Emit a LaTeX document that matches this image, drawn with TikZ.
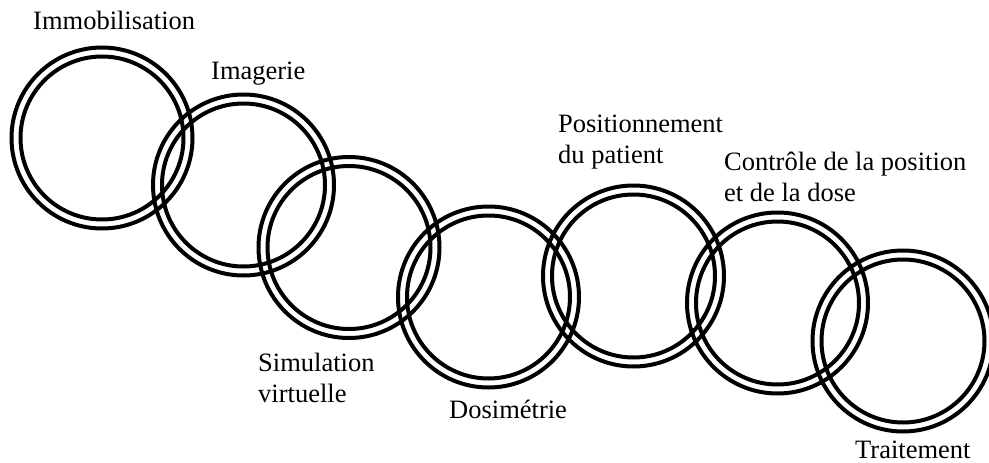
\documentclass[tikz,border=0pt]{standalone}
\usepackage{fontspec}
\setmainfont{Liberation Serif}
\begin{document}
\begin{tikzpicture}[x=1pt,y=-1pt,
  ringouter/.style={circle,draw,line width=4pt,minimum size=181pt,inner sep=0pt},
  ringinner/.style={draw,line width=4pt},
  lbl/.style={anchor=base west,inner sep=0pt,align=left,font=\fontsize{26.5}{31}\selectfont}]
\useasboundingbox (0,0) rectangle (989,463);
\node[ringouter] (r1) at (102,138) {};
\node[ringouter] (r2) at (243.5,185) {};
\node[ringouter] (r3) at (349,247.5) {};
\node[ringouter] (r4) at (488.5,297) {};
\node[ringouter] (r5) at (633.5,276) {};
\node[ringouter] (r6) at (777.5,303) {};
\node[ringouter] (r7) at (903,341) {};
\foreach \r in {r1,r2,r3,r4,r5,r6,r7}
  \draw[ringinner] (\r.center) circle[radius=81.5];
\node[lbl] (t1) at (33,29) {Immobilisation};
\node[lbl] (t2) at (211,79) {Imagerie};
\node[lbl] (t3) at (258,402) {Simulation\\virtuelle};
\node[lbl] (t4) at (449,418) {Dosimétrie};
\node[lbl] (t5) at (558,163) {Positionnement\\du patient};
\node[lbl] (t6) at (724,201) {Contrôle de la position\\et de la dose};
\node[lbl] (t7) at (855,458) {Traitement};
\end{tikzpicture}
\end{document}
